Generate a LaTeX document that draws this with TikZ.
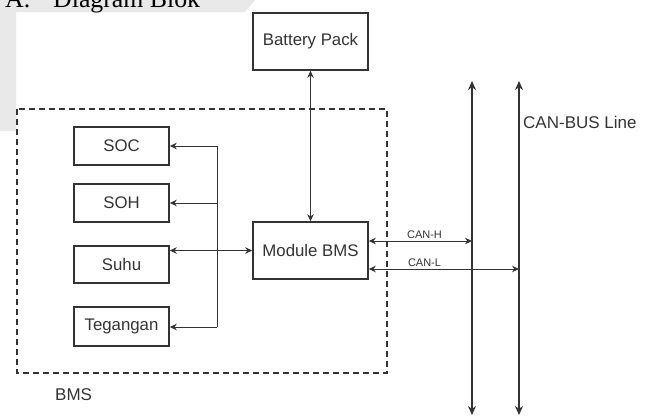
\documentclass[tikz,border=0pt]{standalone}
\usepackage{fontspec}
\setmainfont{Liberation Sans}
\newfontfamily\tnrfont{Liberation Serif}
\usetikzlibrary{arrows.meta}
\definecolor{ink}{HTML}{333333}
\definecolor{bgshade}{HTML}{E9E9E9}
\tikzset{
  blk/.style={draw=ink, line width=1.6pt, rectangle, inner sep=0pt, text=ink,
    font=\fontsize{16.8}{20}\selectfont},
  conn/.style={draw=ink, line width=0.9pt, -{Stealth[length=7pt,width=6.5pt]}},
  dconn/.style={draw=ink, line width=0.9pt, {Stealth[length=7pt,width=6.5pt]}-{Stealth[length=7pt,width=6.5pt]}},
  bus/.style={draw=ink, line width=1.6pt, {Stealth[length=9pt,width=8pt]}-{Stealth[length=9pt,width=8pt]}},
  small/.style={text=ink, inner sep=0pt, font=\fontsize{11}{13}\selectfont},
  lbl/.style={text=ink, inner sep=0pt, font=\fontsize{17}{20}\selectfont},
}
\begin{document}
\begin{tikzpicture}[x=1pt,y=-1pt]
\useasboundingbox (0,0) rectangle (648,416);
\clip (0,0) rectangle (648,416);
% background shading and heading
\fill[fill=bgshade] (0,0) -- (255,0) -- (245,12) -- (16,12) -- (16,131) -- (0,131) -- cycle;
\node[anchor=base west, inner sep=0pt, font=\tnrfont\fontsize{25.8}{28}\selectfont] (hA) at (5,7.5) {A.};
\node[anchor=base west, inner sep=0pt, font=\tnrfont\fontsize{25.8}{28}\selectfont] (hT) at (53,7.5) {Diagram Blok};
% dashed BMS frame
\draw[ink, line width=1.4pt, dash pattern=on 6pt off 4pt] (17,109) rectangle (387,373);
\node[lbl, anchor=west] (bmslbl) at (55,395) {BMS};
% blocks
\node[blk, minimum width=115pt, minimum height=57pt] (bat) at (310.5,41.5) {Battery Pack};
\node[blk, minimum width=115pt, minimum height=57pt] (mod) at (310.5,250.5) {Module BMS};
\node[blk, minimum width=95pt, minimum height=38pt] (soc) at (121.5,146) {SOC};
\node[blk, minimum width=95pt, minimum height=38pt] (soh) at (121.5,203) {SOH};
\node[blk, minimum width=95pt, minimum height=37pt] (suhu) at (121.5,264.5) {Suhu};
\node[blk, minimum width=95pt, minimum height=39pt] (teg) at (121.5,326.5) {Tegangan};
% junction
\coordinate (jtop) at (217,146);
\coordinate (jsoh) at (217,203);
\coordinate (jbot) at (217,327);
\draw[ink, line width=0.9pt] (jtop) -- (jbot);
\draw[conn] (jtop) -- (soc.east);
\draw[conn] (jsoh) -- (soh.east);
\draw[conn] (jbot) -- (teg.east |- jbot);
\draw[dconn] (suhu.east |- mod.west) -- (mod.west);
\draw[dconn] (bat.south) -- (mod.north);
% CAN bus
\coordinate (b1top) at (472,81);
\coordinate (b1bot) at (472,415);
\coordinate (b2top) at (519,81);
\coordinate (b2bot) at (519,415);
\draw[bus] (b1top) -- (b1bot);
\draw[bus] (b2top) -- (b2bot);
\coordinate (canh) at (472,241);
\coordinate (canl) at (519,269);
\draw[dconn] (mod.east |- canh) -- (canh);
\draw[dconn] (mod.east |- canl) -- (canl);
\node[small] (lh) at (424.5,235) {CAN-H};
\node[small] (ll) at (424.5,263) {CAN-L};
\node[lbl, anchor=west] (busl) at (523,122) {CAN-BUS Line};
\end{tikzpicture}
\end{document}
